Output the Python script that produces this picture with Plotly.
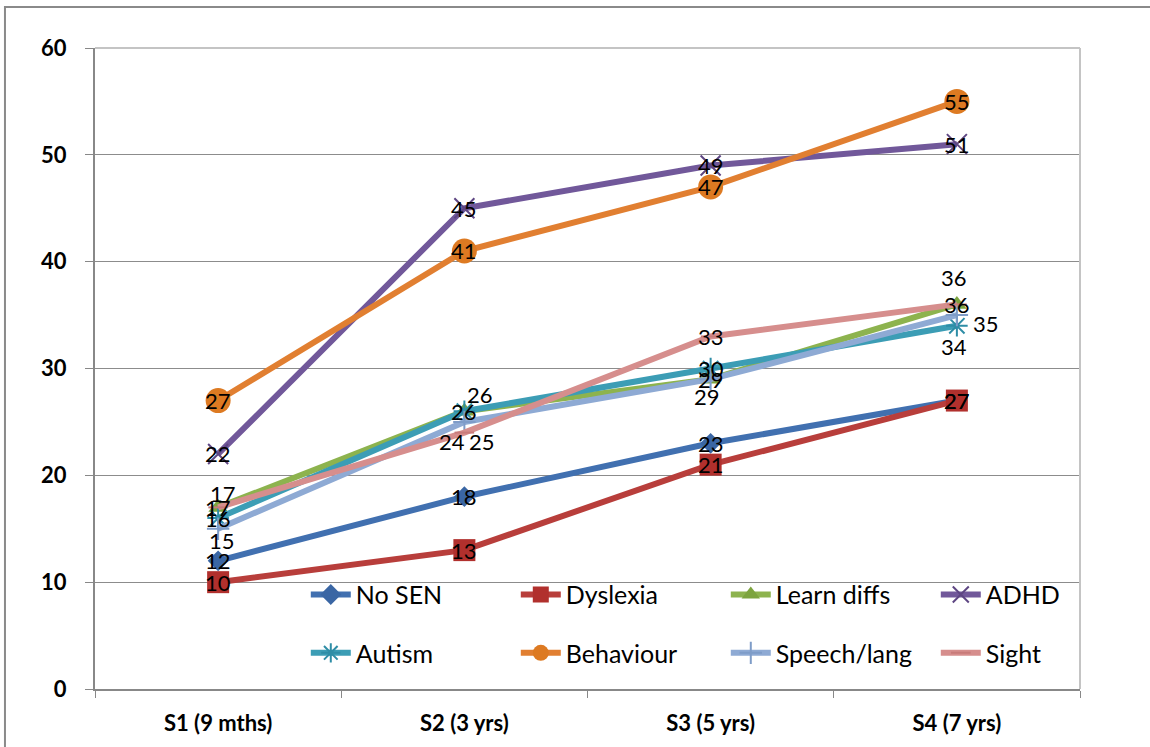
import plotly.graph_objects as go

categories = ["S1 (9 mths)", "S2 (3 yrs)", "S3 (5 yrs)", "S4 (7 yrs)"]

no_sen = [12, 18, 23, 27]
dyslexia = [10, 13, 21, 27]
learn_diffs = [17, 26, 29, 36]
adhd = [22, 45, 49, 51]
autism = [16, 26, 30, 34]
behaviour = [27, 41, 47, 55]
speech_lang = [15, 25, 29, 35]
sight = [17, 24, 33, 36]

y_ticks = [0, 10, 20, 30, 40, 50, 60]

series = [
    ("No SEN", no_sen),
    ("Dyslexia", dyslexia),
    ("Learn diffs", learn_diffs),
    ("ADHD", adhd),
    ("Autism", autism),
    ("Behaviour", behaviour),
    ("Speech/lang", speech_lang),
    ("Sight", sight),
]

styles = {
    "No SEN": dict(color="#4170B0", mcolor="#3A66A4", symbol="diamond", size=16, lw=0),
    "Dyslexia": dict(color="#B83E3B", mcolor="#B1302D", symbol="square", size=22, lw=0),
    "Learn diffs": dict(color="#8DB34E", mcolor="#7DA43F", symbol="triangle-up", size=17, lw=0),
    "ADHD": dict(color="#71589A", mcolor="#5E4683", symbol="x-thin", size=20, lw=2),
    "Autism": dict(color="#3C9DB5", mcolor="#2E8DA6", symbol="asterisk", size=18, lw=2),
    "Behaviour": dict(color="#E17F31", mcolor="#DD7A22", symbol="circle", size=25, lw=0),
    "Speech/lang": dict(color="#8EAAD4", mcolor="#7E9CC8", symbol="cross-thin", size=16, lw=2),
    "Sight": dict(color="#D68E8D", mcolor="#C87B7A", symbol="line-ew", size=14, lw=2),
}

# label offsets (xshift, yshift) in pixels, default centred on point
label_offsets = {
    ("Learn diffs", 0): (5, 14),
    ("Speech/lang", 0): (4, -12),
    ("Learn diffs", 1): (16, 17),
    ("Speech/lang", 1): (18, -20),
    ("Sight", 1): (-12, -9),
    ("Learn diffs", 2): (-4, -17),
    ("Learn diffs", 3): (-3, 27),
    ("Speech/lang", 3): (29, -8),
    ("Autism", 3): (-3, -21),
}

fig = go.Figure()
for i, (name, vals) in enumerate(series):
    st = styles[name]
    marker = dict(symbol=st["symbol"], size=st["size"], color=st["mcolor"])
    if st["lw"]:
        marker["line"] = dict(color=st["mcolor"], width=st["lw"])
    fig.add_trace(go.Scatter(
        x=categories, y=vals, name=name, mode="lines+markers",
        line=dict(color=st["color"], width=6),
        marker=marker,
        legend="legend" if i < 4 else "legend2",
        hoverinfo="skip",
    ))

annotations = []
for name, vals in series:
    for j, v in enumerate(vals):
        dx, dy = label_offsets.get((name, j), (0, 0))
        annotations.append(dict(
            x=categories[j], y=v, text=str(v), showarrow=False,
            xshift=dx, yshift=dy,
            font=dict(family="Lato", size=22, color="black"),
        ))

font_family = "Lato"
legend_common = dict(
    orientation="h", xanchor="left", yanchor="middle",
    bgcolor="rgba(0,0,0,0)", entrywidth=155, entrywidthmode="pixels",
    font=dict(family=font_family, size=25, color="black"),
    itemwidth=40, traceorder="normal",
)

fig.update_layout(
    width=1150, height=747,
    margin=dict(l=95, r=70, t=48, b=58, autoexpand=False),
    paper_bgcolor="white", plot_bgcolor="white",
    showlegend=True,
    legend=dict(x=0.214, y=0.147, **legend_common),
    legend2=dict(x=0.214, y=0.056, **legend_common),
    annotations=annotations,
    xaxis=dict(
        type="category", tickson="boundaries", ticks="outside", ticklen=7,
        tickcolor="#888888", showline=True, linecolor="#888888", linewidth=2,
        showgrid=False, range=[-0.5, 3.5],
        tickfont=dict(family=font_family, size=22, color="black", weight="bold"),
        ticklabelstandoff=14,
    ),
    yaxis=dict(
        range=[0, 60], tickvals=y_ticks, ticks="outside", ticklen=8,
        tickcolor="#888888", showline=True, linecolor="#888888", linewidth=2,
        showgrid=True, gridcolor="#8C8C8C", gridwidth=1, zeroline=False,
        tickfont=dict(family=font_family, size=22, color="black", weight="bold"),
        ticklabelstandoff=14,
    ),
    shapes=[
        dict(type="line", xref="paper", yref="paper", x0=0, x1=1, y0=1, y1=1,
             line=dict(color="#C4C4C4", width=2)),
        dict(type="line", xref="paper", yref="paper", x0=1, x1=1, y0=0, y1=1,
             line=dict(color="#C4C4C4", width=2)),
        dict(type="rect", xref="paper", yref="paper", x0=-0.0914, x1=1.08,
             y0=-0.1, y1=1.064, line=dict(color="#8A8A8A", width=2),
             layer="below"),
    ],
)

fig.write_html("out.html")
